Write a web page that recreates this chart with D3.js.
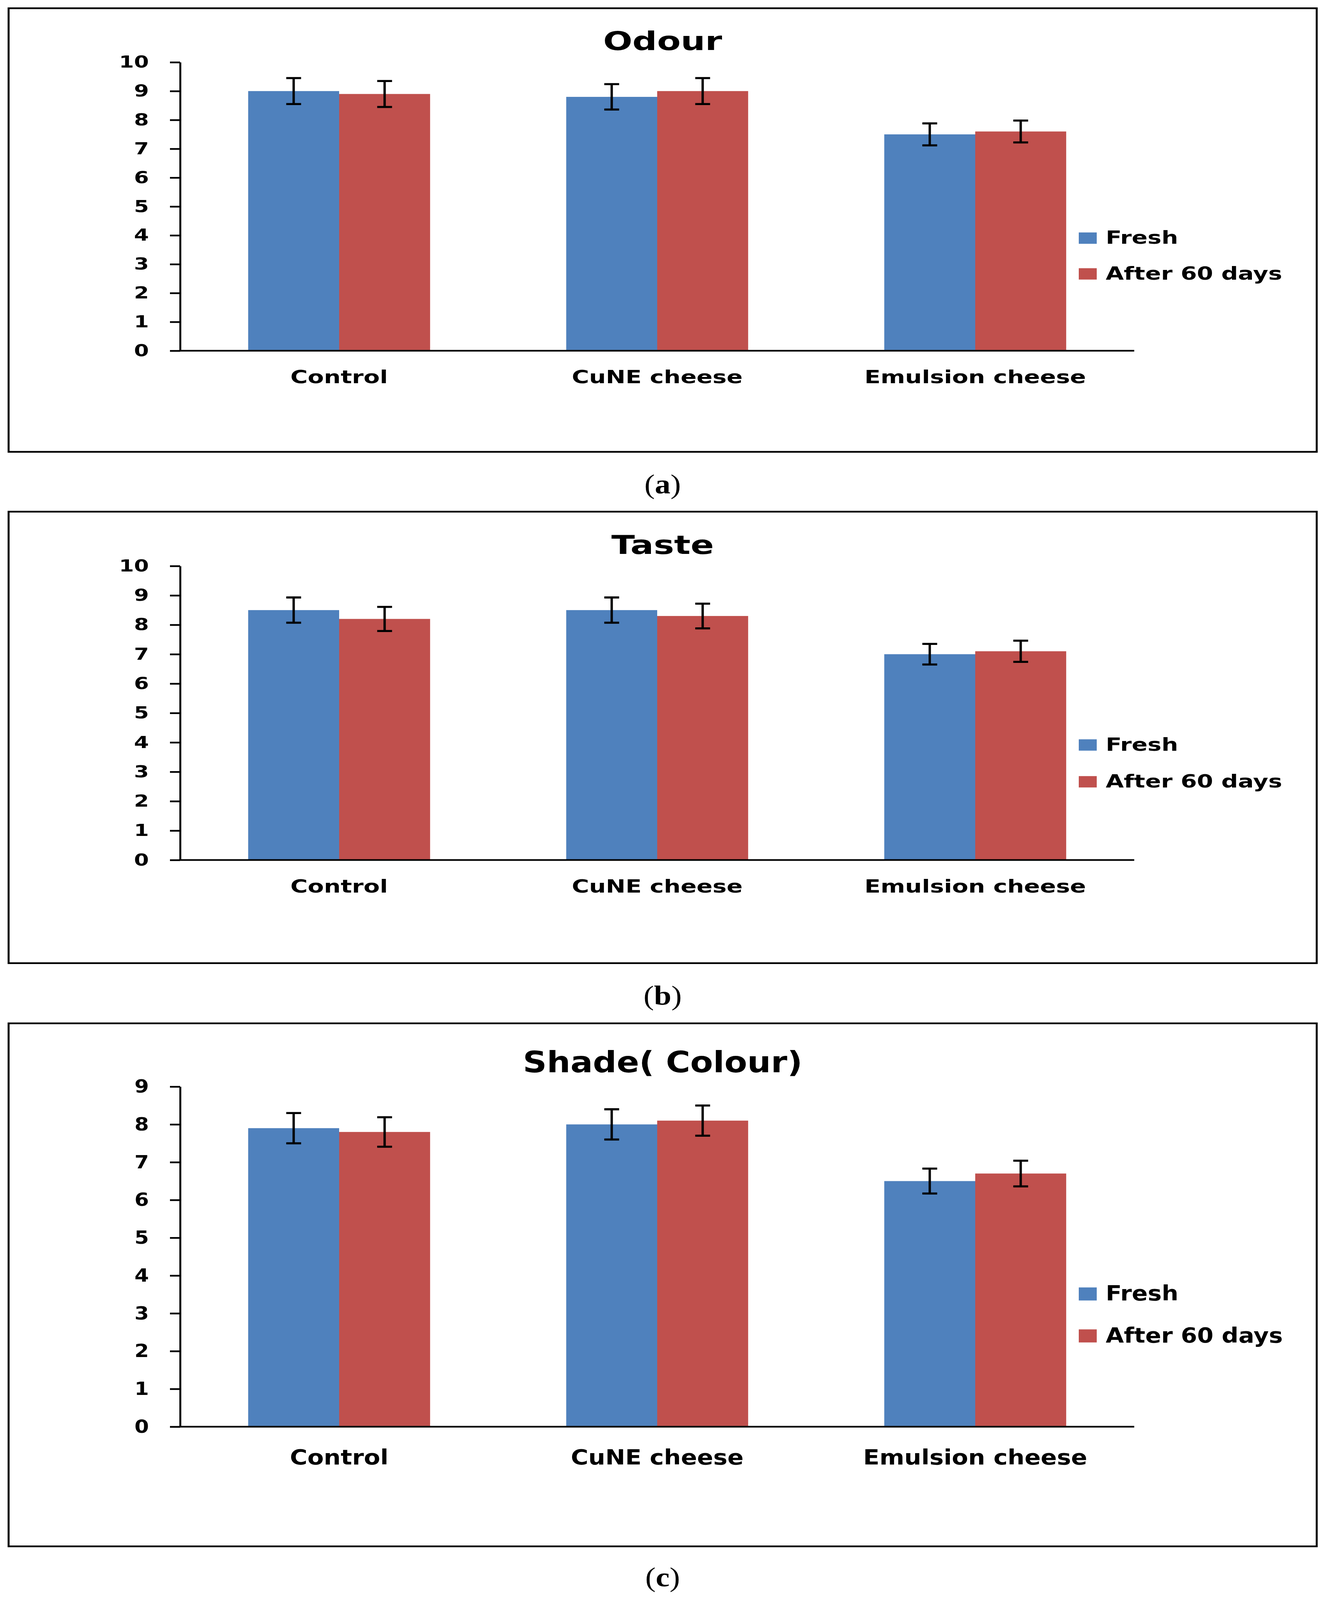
<!DOCTYPE html>
<html>
<head>
<meta charset="utf-8">
<script src="https://cdn.jsdelivr.net/npm/d3@7"></script>
<style>
html, body { margin: 0; padding: 0; background: #fff; overflow: hidden; }
#fig { display: block; width: 100vw; height: 100vh; }
text { font-family: "DejaVu Sans", Verdana, sans-serif; font-weight: bold; fill: #000; }
</style>
</head>
<body>
<svg id="fig" viewBox="0 0 3404 4653" preserveAspectRatio="none"></svg>
<script>
// data
var categories = ["Control", "CuNE cheese", "Emulsion cheese"];
var seriesNames = ["Fresh", "After 60 days"];

var odourFresh = [9.0, 8.8, 7.5];
var odourAfter = [8.9, 9.0, 7.6];
var odourFreshErr = [0.45, 0.44, 0.38];
var odourAfterErr = [0.45, 0.45, 0.38];

var tasteFresh = [8.5, 8.5, 7.0];
var tasteAfter = [8.2, 8.3, 7.1];
var tasteFreshErr = [0.43, 0.43, 0.35];
var tasteAfterErr = [0.41, 0.42, 0.36];

var shadeFresh = [7.9, 8.0, 6.5];
var shadeAfter = [7.8, 8.1, 6.7];
var shadeFreshErr = [0.40, 0.40, 0.33];
var shadeAfterErr = [0.39, 0.40, 0.34];

var ticks10 = [0, 1, 2, 3, 4, 5, 6, 7, 8, 9, 10];
var ticks9 = [0, 1, 2, 3, 4, 5, 6, 7, 8, 9];

var colors = ["#4F81BD", "#C0504D"];

// layout of the three panels
var panels = [
    {title: "Odour", caption: "a", vals: [odourFresh, odourAfter], errs: [odourFreshErr, odourAfterErr],
     ticks: ticks10, ymax: 10, box: [24, 1314], yr: [1020, 181], titleY: 145, labelPad: 57,
     legendY: [676, 780], markH: 33, capY: 1435,
     fs: {title: 74, tick: 48, label: 52, legend: 52}, sx: {title: 1.19, tick: 1.14, label: 1.16, legend: 1.15}},
    {title: "Taste", caption: "b", vals: [tasteFresh, tasteAfter], errs: [tasteFreshErr, tasteAfterErr],
     ticks: ticks10, ymax: 10, box: [1488, 2801], yr: [2501, 1646], titleY: 1611, labelPad: 58,
     legendY: [2150, 2257], markH: 33, capY: 2922,
     fs: {title: 74, tick: 48, label: 52, legend: 52}, sx: {title: 1.19, tick: 1.14, label: 1.16, legend: 1.15}},
    {title: "Shade( Colour)", caption: "c", vals: [shadeFresh, shadeAfter], errs: [shadeFreshErr, shadeAfterErr],
     ticks: ticks9, ymax: 9, box: [2976, 4497], yr: [4149, 3160], titleY: 3118, labelPad: 67,
     legendY: [3744, 3866], markH: 38, capY: 4613,
     fs: {title: 85, tick: 53, label: 61, legend: 60}, sx: {title: 1.0, tick: 1.0, label: 1.0, legend: 1.0}}
];

var svg = d3.select("#fig");
svg.append("rect").attr("width", 3404).attr("height", 4653).attr("fill", "#fff");

var boxLeft = 22, boxRight = 3370, plotLeft = 461, plotRight = 2903;
var midX = (boxLeft + boxRight) / 2;

var x0 = d3.scaleBand()
        .domain(categories)
        .range([plotLeft, plotRight])
        .paddingInner(0.428)
        .paddingOuter(0.214);
var x1 = d3.scaleBand()
        .domain(seriesNames)
        .range([0, x0.bandwidth()]);

function stretched(g, txt, x, y, size, sx, anchor) {
    return g.append("text")
            .attr("transform", "translate(" + x + "," + y + ") scale(" + sx + ",1)")
            .attr("font-size", size)
            .attr("text-anchor", anchor || "middle")
            .text(txt);
}

panels.forEach(function (p) {
    var g = svg.append("g");
    var y = d3.scaleLinear().domain([0, p.ymax]).range(p.yr);

    g.append("rect")
            .attr("x", boxLeft).attr("y", p.box[0])
            .attr("width", boxRight - boxLeft).attr("height", p.box[1] - p.box[0])
            .attr("fill", "none").attr("stroke", "#000").attr("stroke-width", 5);

    stretched(g, p.title, midX, p.titleY, p.fs.title, p.sx.title);

    var rows = categories.map(function (c, i) {
        return seriesNames.map(function (s, j) {
            return {cat: c, ser: s, j: j, v: p.vals[j][i], e: p.errs[j][i]};
        });
    });

    var grp = g.append("g").selectAll("g")
            .data(rows)
            .enter().append("g")
            .attr("transform", function (d) {
                return "translate(" + x0(d[0].cat) + ",0)";
            });

    grp.selectAll("rect")
            .data(function (d) { return d; })
            .enter().append("rect")
            .attr("x", function (d) { return x1(d.ser); })
            .attr("y", function (d) { return y(d.v); })
            .attr("width", x1.bandwidth())
            .attr("height", function (d) { return y(0) - y(d.v); })
            .attr("fill", function (d) { return colors[d.j]; });

    // error bars
    var eb = grp.selectAll("g.err")
            .data(function (d) { return d; })
            .enter().append("g")
            .attr("class", "err")
            .attr("stroke", "#000")
            .attr("stroke-width", 6)
            .attr("transform", function (d) {
                return "translate(" + (x1(d.ser) + x1.bandwidth() / 2) + ",0)";
            });
    eb.append("line")
            .attr("y1", function (d) { return y(d.v - d.e); })
            .attr("y2", function (d) { return y(d.v + d.e); });
    eb.append("line")
            .attr("x1", -19).attr("x2", 19)
            .attr("y1", function (d) { return y(d.v + d.e); })
            .attr("y2", function (d) { return y(d.v + d.e); });
    eb.append("line")
            .attr("x1", -19).attr("x2", 19)
            .attr("y1", function (d) { return y(d.v - d.e); })
            .attr("y2", function (d) { return y(d.v - d.e); });

    // y axis
    var ya = g.append("g")
            .attr("transform", "translate(" + plotLeft + ",0)")
            .call(d3.axisLeft(y).tickValues(p.ticks).tickFormat(d3.format("d"))
                    .tickSizeInner(26).tickSizeOuter(0).tickPadding(54));
    ya.selectAll("path, line").attr("stroke", "#000").attr("stroke-width", 5);
    ya.selectAll("text")
            .attr("font-size", p.fs.tick)
            .attr("x", -80 / p.sx.tick)
            .attr("transform", "scale(" + p.sx.tick + ",1)");
    ya.attr("font-family", null).attr("font-size", null);

    // x axis
    var xa = g.append("g")
            .attr("transform", "translate(0," + y(0) + ")")
            .call(d3.axisBottom(x0).tickSize(0).tickPadding(p.labelPad));
    xa.select(".domain").attr("stroke", "#000").attr("stroke-width", 5)
            .attr("d", "M" + (plotLeft - 2.5) + ",0H" + plotRight);
    xa.selectAll("text")
            .attr("font-size", p.fs.label)
            .attr("transform", "scale(" + p.sx.label + ",1)");
    xa.attr("font-family", null).attr("font-size", null);

    // legend
    var lg = g.append("g").selectAll("g")
            .data(seriesNames)
            .enter().append("g");
    lg.append("rect")
            .attr("x", 2761)
            .attr("y", function (d, i) { return p.legendY[i]; })
            .attr("width", 46)
            .attr("height", p.markH)
            .attr("fill", function (d, i) { return colors[i]; });
    lg.each(function (d, i) {
        stretched(d3.select(this), d, 2830, p.legendY[i] + p.markH, p.fs.legend, p.sx.legend, "start");
    });

    // caption under the box
    var cap = g.append("text")
            .attr("x", midX).attr("y", p.capY)
            .attr("text-anchor", "middle")
            .attr("font-size", 80)
            .style("font-family", "'Liberation Serif', 'DejaVu Serif', serif")
            .style("font-weight", "normal");
    cap.append("tspan").text("(");
    cap.append("tspan").style("font-weight", "bold").text(p.caption);
    cap.append("tspan").text(")");
});
</script>
</body>
</html>
